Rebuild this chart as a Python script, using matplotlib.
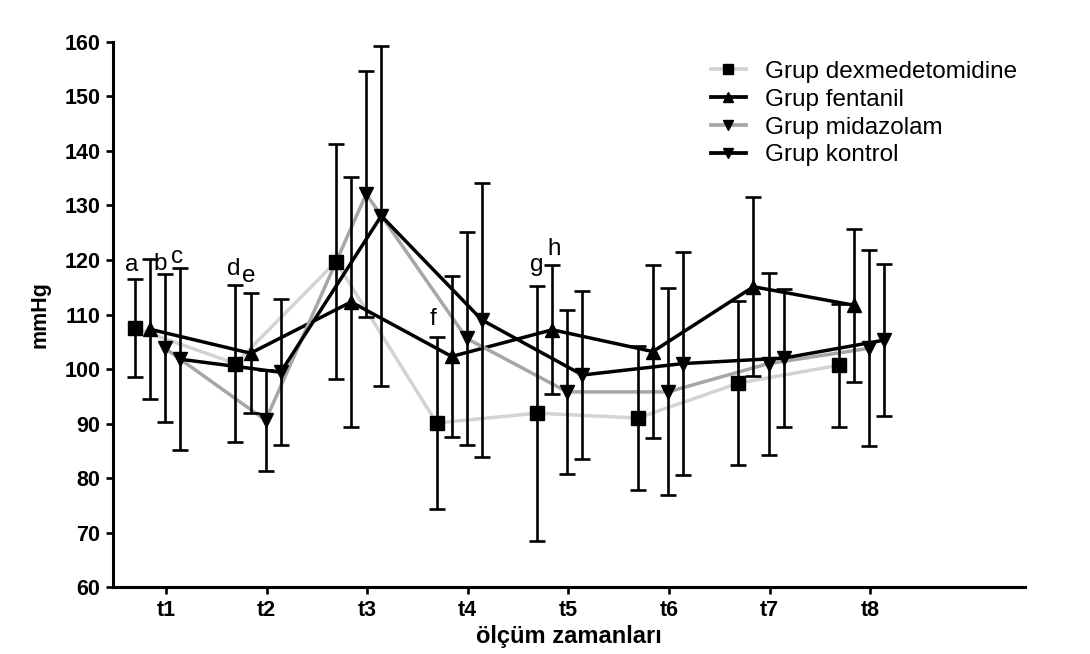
import matplotlib
matplotlib.use('Agg')
import matplotlib.pyplot as plt
import numpy as np

plt.rcParams['font.family'] = ['Liberation Sans', 'DejaVu Sans']

times = ['t1', 't2', 't3', 't4', 't5', 't6', 't7', 't8']

# mean +/- sd
dex_mean = [107.5, 101.0, 119.7, 90.1, 91.9, 91.0, 97.4, 100.7]
dex_sd = [9.0, 14.4, 21.5, 15.7, 23.4, 13.2, 15.0, 11.3]
fen_mean = [107.3, 102.9, 112.3, 102.3, 107.2, 103.2, 115.1, 111.7]
fen_sd = [12.8, 11.0, 23.0, 14.8, 11.8, 15.9, 16.4, 14.0]
mid_mean = [103.8, 90.6, 132.1, 105.6, 95.8, 95.8, 101.0, 103.8]
mid_sd = [13.6, 9.3, 22.5, 19.5, 15.0, 19.0, 16.7, 18.0]
kon_mean = [101.8, 99.4, 128.1, 109.0, 98.9, 101.0, 102.0, 105.3]
kon_sd = [16.7, 13.4, 31.2, 25.2, 15.4, 20.5, 12.6, 14.0]

labels = ['Grup dexmedetomidine', 'Grup fentanil', 'Grup midazolam', 'Grup kontrol']

# significance letters: (letter, x, baseline y)
letters = [('a', 0.66, 117.9), ('b', 0.94, 118.2), ('c', 1.11, 119.4),
           ('d', 1.67, 117.2), ('e', 1.825, 116.0), ('f', 3.654, 108.1),
           ('g', 4.69, 118.0), ('h', 4.86, 120.9)]

series = [
    (dex_mean, dex_sd, -0.31, '#d3d3d3', 's'),
    (fen_mean, fen_sd, -0.16, '#000000', '^'),
    (mid_mean, mid_sd, -0.01, '#a6a6a6', 'v'),
    (kon_mean, kon_sd, 0.14, '#000000', 'v'),
]

fig = plt.figure(figsize=(10.9, 6.54), dpi=100)
ax = fig.add_axes([0.1037, 0.1024, 0.8367, 0.8334])

x = np.arange(1, len(times) + 1)
handles = []
for (m, sd, off, col, mk), lab in zip(series, labels):
    xs = x + off
    ax.plot(xs, m, color=col, lw=2.5, zorder=2, solid_joinstyle='round')
    ax.errorbar(xs, m, yerr=sd, fmt='none', ecolor='black', elinewidth=1.9,
                capsize=5.5, capthick=1.9, zorder=3)
    ax.plot(xs, m, ls='none', marker=mk, ms=9.5, color='black', zorder=4)
    h, = ax.plot([], [], color=col, lw=2.7, marker=mk, ms=7, mfc='black', mec='black')
    handles.append(h)

for t, lx, ly in letters:
    ax.text(lx, ly, t, fontsize=17.5, ha='center', va='baseline')

ax.set_xlim(0.473, 9.54)
ax.set_ylim(60, 160)
ax.set_yticks(np.arange(60, 161, 10))
ax.set_xticks(x)
ax.set_xticklabels(times)
for s in ['top', 'right']:
    ax.spines[s].set_visible(False)
for s in ['left', 'bottom']:
    ax.spines[s].set_linewidth(2.2)
ax.tick_params(axis='both', direction='out', length=5, width=1.9, pad=4)
for lbl in ax.get_xticklabels() + ax.get_yticklabels():
    lbl.set_fontsize(15.5)
    lbl.set_fontweight('bold')

ax.set_xlabel('ölçüm zamanları', fontsize=17, fontweight='bold', labelpad=3)
ax.set_ylabel('mmHg', fontsize=15.5, fontweight='bold', labelpad=10)

fig.legend(handles, labels, loc='upper left', bbox_to_anchor=(0.652, 0.907),
           frameon=False, fontsize=17.5, handlelength=1.45, handletextpad=0.8,
           labelspacing=0.24, borderpad=0, borderaxespad=0)

fig.savefig('out.png', dpi=100)
